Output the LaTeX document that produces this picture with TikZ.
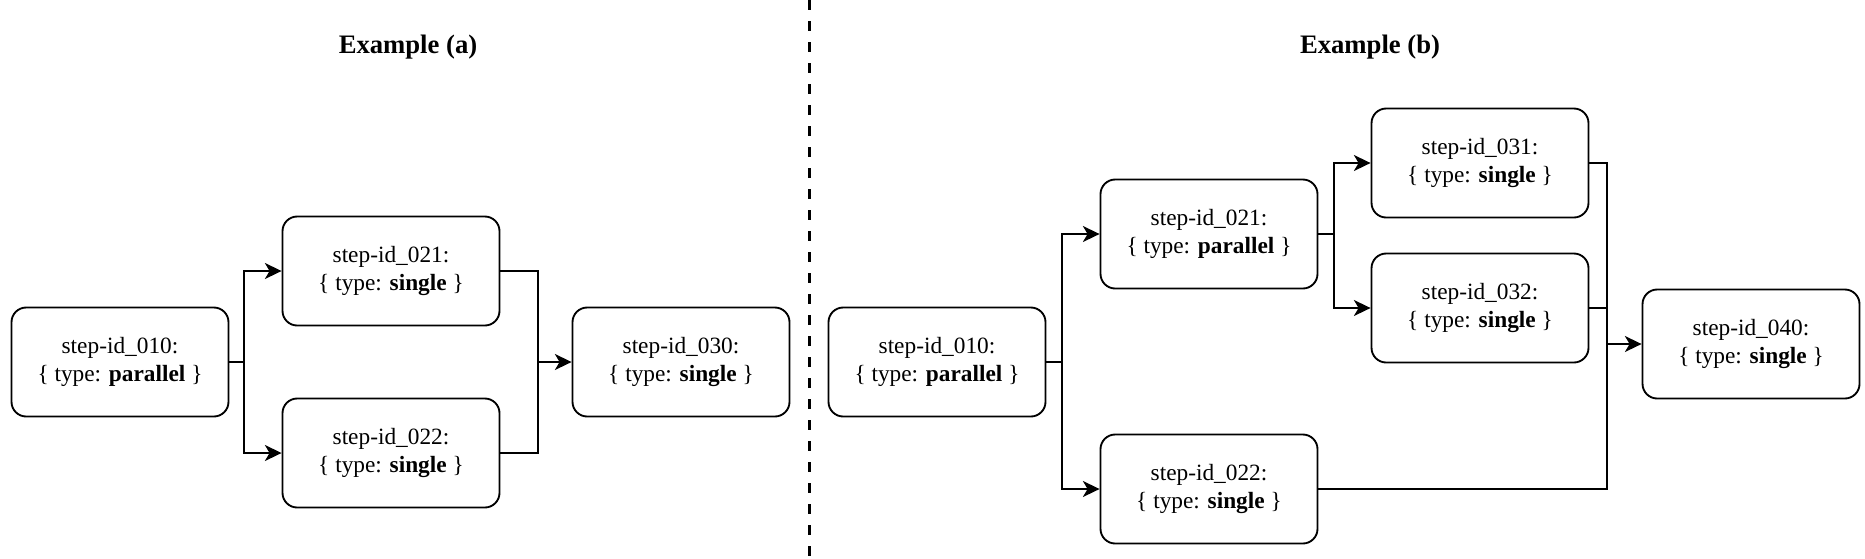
\documentclass[tikz,border=0pt]{standalone}
\usepackage{fontspec}
\setmainfont{Liberation Serif}
\usetikzlibrary{arrows.meta}

\tikzset{every picture/.style={line width=0.75pt}}
\tikzset{
  task/.style={draw, line width=1.4pt, rounded corners=11pt, minimum width=162.75pt, minimum height=81.75pt,
    align=center, inner sep=0.75pt, font=\fontsize{17.5pt}{20.5pt}\selectfont},
  flow/.style={line width=1.4pt},
  flowarrow/.style={line width=1.4pt, -{Stealth[length=12.5pt,width=12pt,inset=3.5pt]}},
  heading/.style={inner sep=0.75pt, font=\fontsize{20pt}{24pt}\selectfont\bfseries}
}

\begin{document}
\begin{tikzpicture}[x=0.75pt,y=0.75pt,yscale=-1,xscale=1]
\useasboundingbox (0,0) rectangle (1865,558);

% Text Node
\node[heading] (titlea) at (408,47) {Example (a)};
% Text Node
\node[heading] (titleb) at (1370,47) {Example (b)};

%Straight Lines: separator
\draw[line width=2.25pt, dash pattern=on 7.5pt off 8.25pt] (809,0) -- (809,558);

%Shape: Rounded Rect, example (a)
\node[task] (a010) at (120,362) {step-id\_010:\\\{ type: \textbf{parallel} \}};
\node[task] (a021) at (391,271) {step-id\_021:\\\{ type: \textbf{single} \}};
\node[task] (a022) at (391,453) {step-id\_022:\\\{ type: \textbf{single} \}};
\node[task] (a030) at (681,362) {step-id\_030:\\\{ type: \textbf{single} \}};

%Shape: Rounded Rect, example (b)
\node[task] (b010) at (937,362) {step-id\_010:\\\{ type: \textbf{parallel} \}};
\node[task] (b021) at (1209,234) {step-id\_021:\\\{ type: \textbf{parallel} \}};
\node[task] (b022) at (1209,489) {step-id\_022:\\\{ type: \textbf{single} \}};
\node[task] (b031) at (1480,163) {step-id\_031:\\\{ type: \textbf{single} \}};
\node[task] (b032) at (1480,308) {step-id\_032:\\\{ type: \textbf{single} \}};
\node[task] (b040) at (1751,344) {step-id\_040:\\\{ type: \textbf{single} \}};

%Connectors, example (a)
\coordinate (afork) at (244,362);
\coordinate (ajoin) at (538,362);
\draw[flow] (a010.east) -- (afork);
\draw[flowarrow] (afork) |- (a021.west);
\draw[flowarrow] (afork) |- (a022.west);
\draw[flow] (a021.east) -| (ajoin);
\draw[flow] (a022.east) -| (ajoin);
\draw[flowarrow] (ajoin) -- (a030.west);

%Connectors, example (b)
\coordinate (bfork) at (1062,362);
\coordinate (cfork) at (1334,234);
\coordinate (bjoin) at (1607,344);
\draw[flow] (b010.east) -- (bfork);
\draw[flowarrow] (bfork) |- (b021.west);
\draw[flowarrow] (bfork) |- (b022.west);
\draw[flow] (b021.east) -- (cfork);
\draw[flowarrow] (cfork) |- (b031.west);
\draw[flowarrow] (cfork) |- (b032.west);
\draw[flow] (b031.east) -| (bjoin);
\draw[flow] (b032.east) -| (bjoin);
\draw[flow] (b022.east) -| (bjoin);
\draw[flowarrow] (bjoin) -- (b040.west);

\end{tikzpicture}
\end{document}
